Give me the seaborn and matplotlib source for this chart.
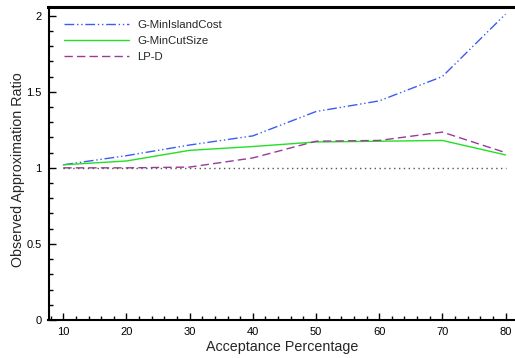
import matplotlib
matplotlib.use("Agg")
import matplotlib.pyplot as plt
from matplotlib.ticker import MultipleLocator
import pandas as pd
import seaborn as sns

acceptance = [10, 20, 30, 40, 50, 60, 70, 80]
min_island_cost = [1.02, 1.08, 1.15, 1.21, 1.37, 1.44, 1.60, 2.01]
min_cut_size = [1.02, 1.045, 1.115, 1.14, 1.17, 1.175, 1.18, 1.085]
lp_d = [1.0, 1.0, 1.005, 1.065, 1.175, 1.18, 1.235, 1.10]
series_names = ["G-MinIslandCost", "G-MinCutSize", "LP-D"]

df = pd.DataFrame({
    "Acceptance Percentage": acceptance * 3,
    "ratio": min_island_cost + min_cut_size + lp_d,
    "series": [n for n in series_names for _ in acceptance],
})

sns.set_theme(style="ticks")
plt.rcParams["font.family"] = ["Liberation Sans", "DejaVu Sans"]

fig = plt.figure(figsize=(5.15, 3.58), dpi=100)
ax = fig.add_axes([48.5 / 515, 38 / 358, 1 - 48.5 / 515, (320 - 7) / 358])

palette = {"G-MinIslandCost": "#3a5cf5", "G-MinCutSize": "#22e022", "LP-D": "#9a3a9a"}
dashes = {"G-MinIslandCost": (7, 2, 1, 2, 1, 2), "G-MinCutSize": "", "LP-D": (6, 3)}

sns.lineplot(data=df, x="Acceptance Percentage", y="ratio", hue="series",
             style="series", palette=palette, dashes=dashes, linewidth=1.0,
             ax=ax, legend=True)

# reference ratio of 1
ax.plot([acceptance[0], acceptance[-1]], [1, 1], color="#555555",
        linestyle=(0, (1, 2.5)), linewidth=1.0)

ax.set_xlim(7.66, 81.5)
ax.set_ylim(0, 2.057)
ax.xaxis.set_major_locator(MultipleLocator(10))
ax.xaxis.set_minor_locator(MultipleLocator(2))
ax.yaxis.set_major_locator(MultipleLocator(0.5))
ax.yaxis.set_minor_locator(MultipleLocator(0.1))
ax.yaxis.set_major_formatter(plt.FuncFormatter(lambda v, p: f"{v:g}"))
ax.tick_params(which="both", direction="in", top=False, right=False,
               labelsize=8, colors="black", width=1.0)
ax.tick_params(which="major", length=5, pad=5)
ax.tick_params(which="minor", length=3)

ax.set_xlabel("Acceptance Percentage", fontsize=10.3, labelpad=2)
ax.set_ylabel("Observed Approximation Ratio", fontsize=10.3, labelpad=1, y=0.48)

for side in ["left", "bottom"]:
    ax.spines[side].set_linewidth(1.5)
    ax.spines[side].set_color("black")
ax.spines["top"].set_linewidth(2.2)
ax.spines["top"].set_color("black")
ax.spines["right"].set_visible(False)

handles, labels = ax.get_legend_handles_labels()
leg = ax.legend(handles, labels, loc="upper left", bbox_to_anchor=(0.011, 0.99),
                frameon=False, fontsize=8.2, handlelength=5.7, handletextpad=0.75,
                labelspacing=0.5)
for h in leg.get_lines():
    h.set_linewidth(1.0)

fig.savefig("out.png", dpi=100)
